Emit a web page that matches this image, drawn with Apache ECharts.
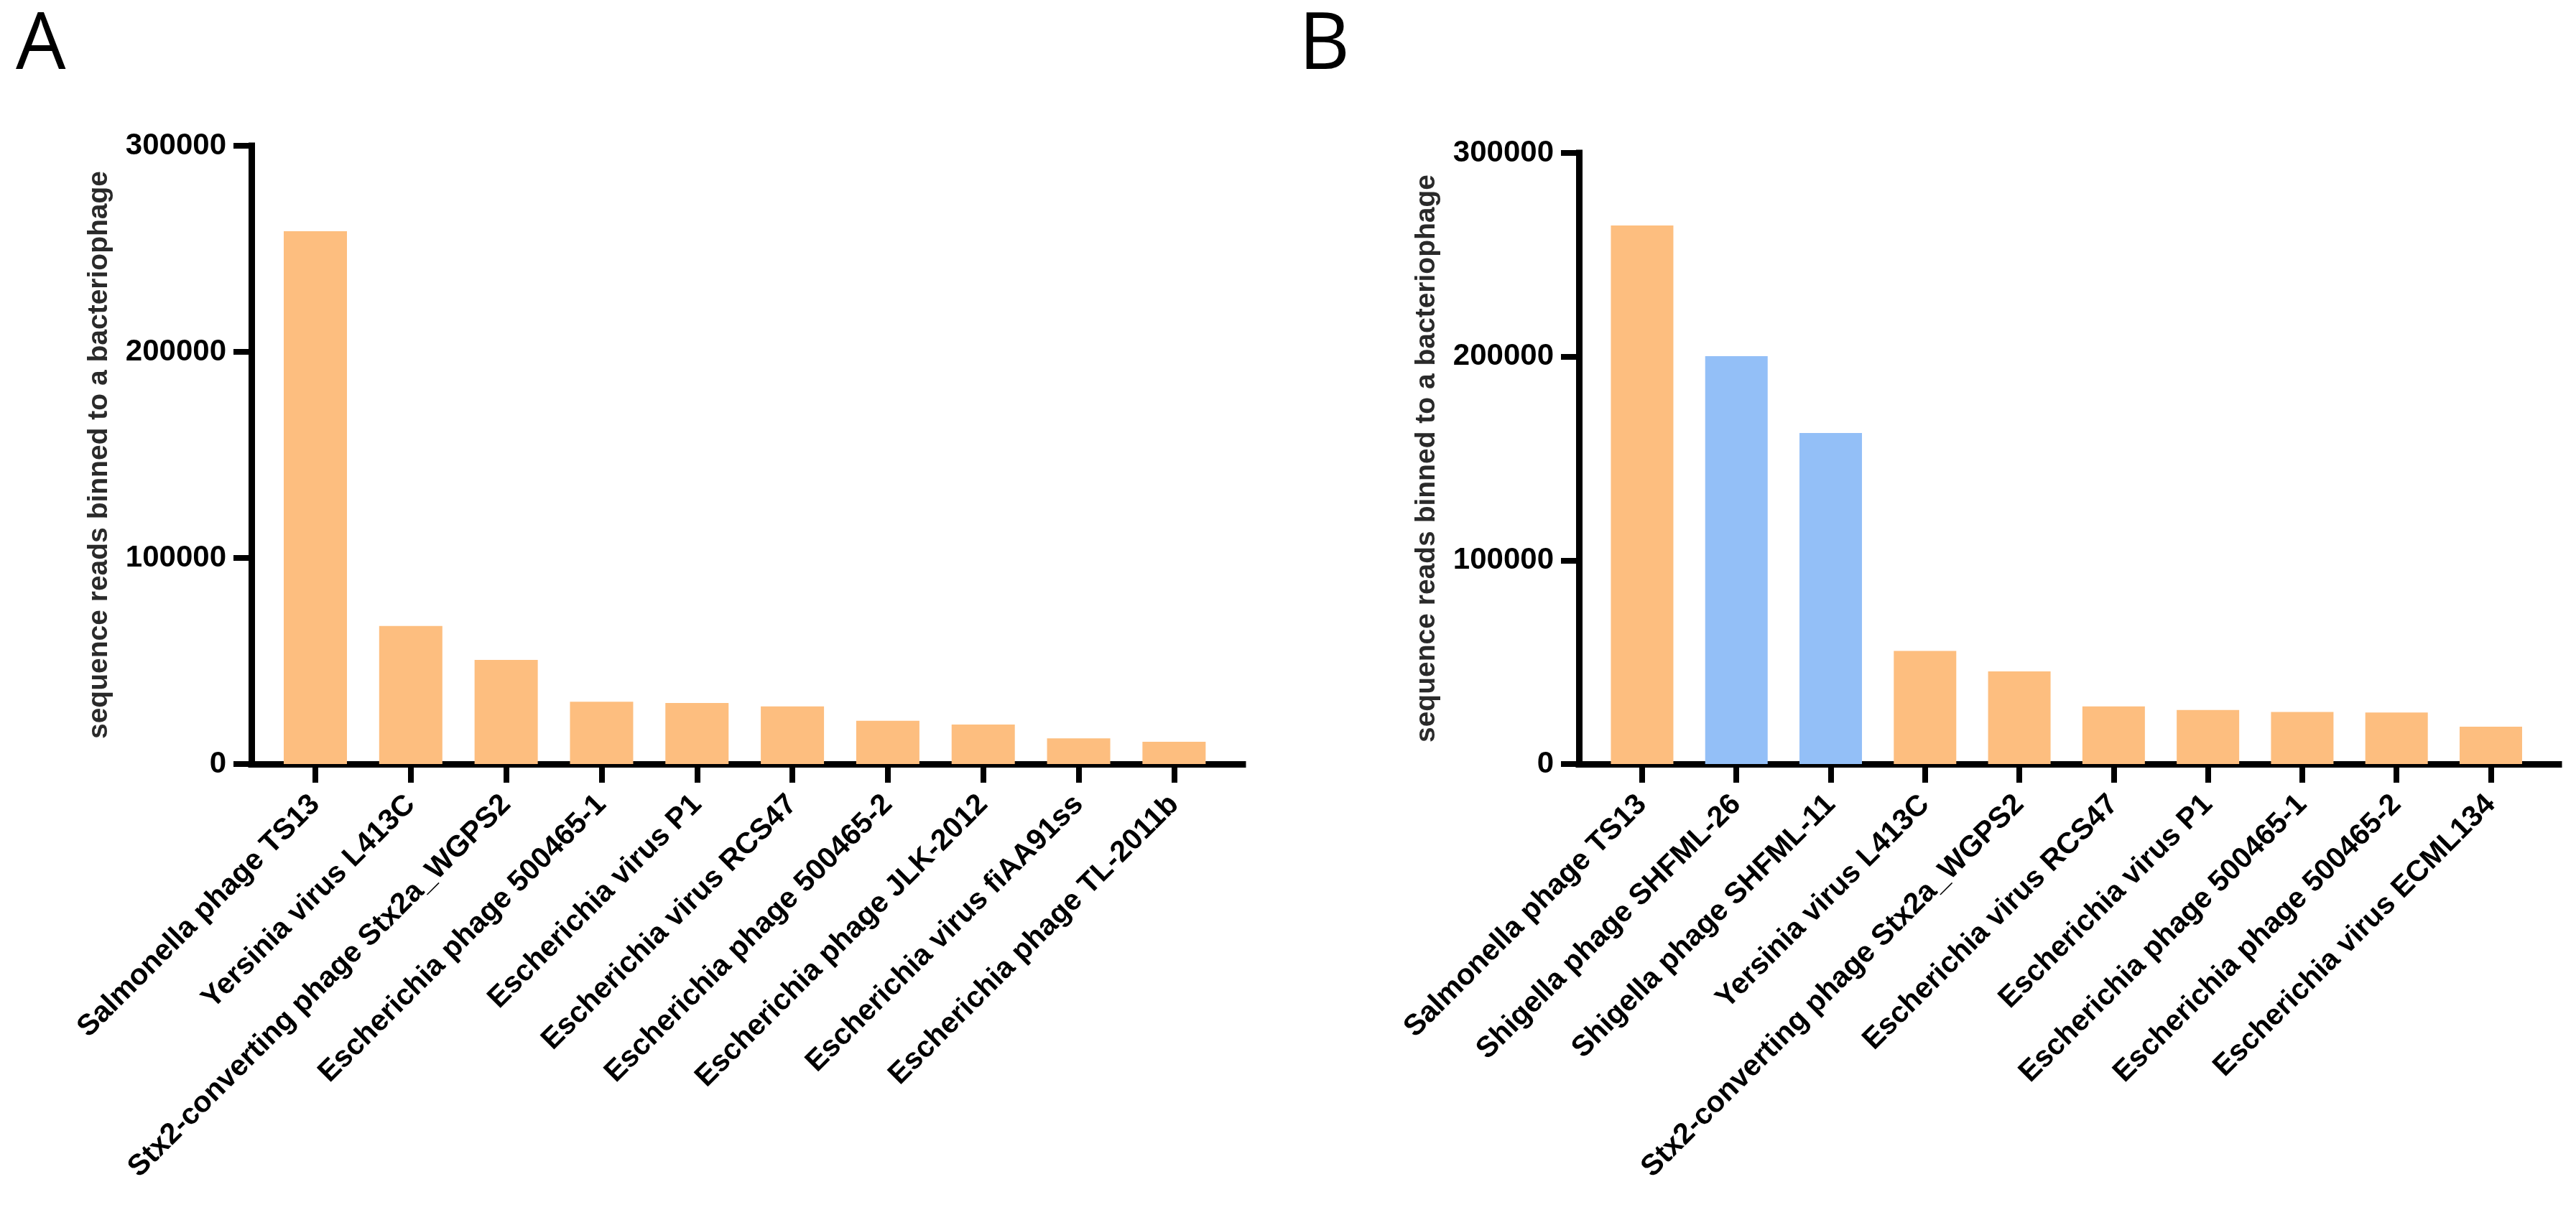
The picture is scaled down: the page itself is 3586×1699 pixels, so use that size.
<!DOCTYPE html>
<html>
<head>
<meta charset="utf-8">
<script src="https://cdn.jsdelivr.net/npm/echarts@6/dist/echarts.min.js"></script>
<style>
  html, body { margin: 0; padding: 0; background: #ffffff; }
  #chart { width: 3586px; height: 1699px; }
</style>
</head>
<body>
<div id="chart"></div>
<script>
// ---- data ----
const categoriesA = [
  'Salmonella phage TS13',
  'Yersinia virus L413C',
  'Stx2-converting phage Stx2a_WGPS2',
  'Escherichia phage 500465-1',
  'Escherichia virus P1',
  'Escherichia virus RCS47',
  'Escherichia phage 500465-2',
  'Escherichia phage JLK-2012',
  'Escherichia virus fiAA91ss',
  'Escherichia phage TL-2011b'
];
const valuesA = [258500, 67000, 50500, 30200, 29600, 28000, 21000, 19200, 12500, 10800];

const categoriesB = [
  'Salmonella phage TS13',
  'Shigella phage SHFML-26',
  'Shigella phage SHFML-11',
  'Yersinia virus L413C',
  'Stx2-converting phage Stx2a_WGPS2',
  'Escherichia virus RCS47',
  'Escherichia virus P1',
  'Escherichia phage 500465-1',
  'Escherichia phage 500465-2',
  'Escherichia virus ECML134'
];
const valuesB = [264400, 200200, 162500, 55500, 45500, 28300, 26500, 25600, 25300, 18300];
const highlightedB = ['Shigella phage SHFML-26', 'Shigella phage SHFML-11'];

const yTicks = [0, 100000, 200000, 300000];
const yTitle = 'sequence reads binned to a bacteriophage';

// ---- style ----
const ORANGE = '#FDBE7F';
const BLUE = '#93BFF7';
const FONT = '"Liberation Sans", Arial, sans-serif';
const LW = 9;

function xAxisFor(gridIndex, cats) {
  const idx = cats.map((_, i) => i);
  return {
    type: 'value', gridIndex: gridIndex,
    min: -0.67, max: 9.72,
    splitLine: { show: false },
    axisLine: { show: true, onZero: false, lineStyle: { color: '#000', width: LW, cap: 'square' } },
    axisTick: { show: true, length: 26, customValues: idx, lineStyle: { color: '#000', width: 8 } },
    axisLabel: {
      show: true, customValues: idx, rotate: 45, margin: 50,
      formatter: v => cats[Math.round(v)],
      color: '#000', fontFamily: FONT, fontWeight: 'bold', fontSize: 41
    }
  };
}
function yAxisFor(gridIndex) {
  return {
    type: 'value', gridIndex: gridIndex,
    min: yTicks[0], max: yTicks[yTicks.length - 1], interval: yTicks[1] - yTicks[0],
    name: yTitle, nameLocation: 'middle', nameGap: 192,
    nameTextStyle: { color: '#2a2a2a', fontFamily: FONT, fontWeight: 'bold', fontSize: 39 },
    splitLine: { show: false },
    axisLine: { show: true, onZero: false, lineStyle: { color: '#000', width: LW, cap: 'square' } },
    axisTick: { show: true, length: 25, lineStyle: { color: '#000', width: 8 } },
    axisLabel: {
      margin: 35, color: '#000', fontFamily: FONT, fontWeight: 'bold', fontSize: 42,
      formatter: v => String(v)
    }
  };
}

const chart = echarts.init(document.getElementById('chart'), null, { renderer: 'canvas', width: 3586, height: 1699 });
chart.setOption({
  backgroundColor: '#ffffff',
  animation: false,
  grid: [
    { left: 350, top: 203, width: 1380, height: 861 },
    { left: 2198, top: 213, width: 1364, height: 851 }
  ],
  xAxis: [xAxisFor(0, categoriesA), xAxisFor(1, categoriesB)],
  yAxis: [yAxisFor(0), yAxisFor(1)],
  series: [
    {
      type: 'bar', xAxisIndex: 0, yAxisIndex: 0, barWidth: 88,
      itemStyle: { color: ORANGE },
      data: valuesA.map((v, i) => [i, v])
    },
    {
      type: 'bar', xAxisIndex: 1, yAxisIndex: 1, barWidth: 87,
      data: valuesB.map((v, i) => ({
        value: [i, v],
        itemStyle: { color: highlightedB.includes(categoriesB[i]) ? BLUE : ORANGE }
      }))
    }
  ],
  graphic: [
    { type: 'text', left: 22, top: 10, style: { text: 'A', font: 'normal 110px "Open Sans", sans-serif', fill: '#000' } },
    { type: 'text', left: 1808, top: 10, style: { text: 'B', font: 'normal 110px "Open Sans", sans-serif', fill: '#000' } }
  ]
});
</script>
</body>
</html>
